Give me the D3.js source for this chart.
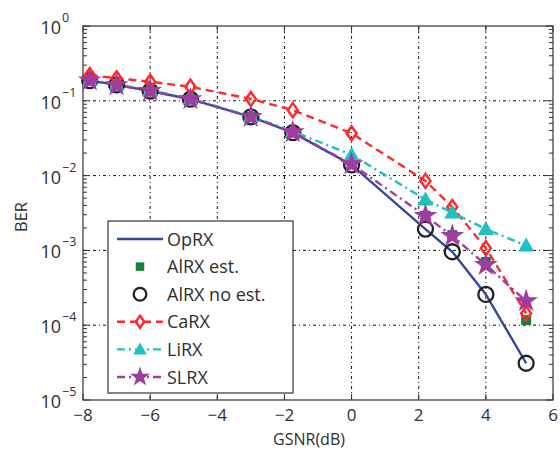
<!DOCTYPE html>
<html><head><meta charset="utf-8">
<script src="https://cdn.jsdelivr.net/npm/d3@7"></script>
<style>
body{margin:0;background:#fff;}
text{font-family:"Open Sans","Noto Sans",sans-serif;fill:#2e2e2e;}
</style></head>
<body><svg id="c" width="560" height="451"></svg>
<script>
const gsnr = [-7.8, -7, -6, -4.8, -3, -1.75, 0, 2.2, 3, 4, 5.2];
const opRX      = [0.186, 0.163, 0.135, 0.105, 0.061, 0.0375, 0.0139, 0.00193, 0.00096, 0.000258, 0.000031];
const alRXest   = [0.188, 0.162, 0.136, 0.105, 0.061, 0.038, 0.0142, 0.0029, 0.0016, 0.00070, 0.000117];
const alRXnoEst = [0.186, 0.163, 0.135, 0.105, 0.061, 0.0375, 0.0139, 0.00193, 0.00096, 0.000258, 0.000031];
const caRX      = [0.221, 0.200, 0.180, 0.154, 0.106, 0.075, 0.0368, 0.0085, 0.0038, 0.00107, 0.000144];
const liRX      = [0.190, 0.165, 0.138, 0.107, 0.062, 0.039, 0.019, 0.0048, 0.0032, 0.00193, 0.00116];
const slRX      = [0.188, 0.162, 0.136, 0.105, 0.061, 0.038, 0.0142, 0.0029, 0.00156, 0.00064, 0.00021];
const xTicks = [-8, -6, -4, -2, 0, 2, 4, 6];
const yExps = [0, -1, -2, -3, -4, -5];
const seriesNames = ["OpRX", "AlRX est.", "AlRX no est.", "CaRX", "LiRX", "SLRX"];

const svg = d3.select("#c");
const L = 83, R = 553, T = 26, B = 400;
const x = d3.scaleLinear().domain([-8, 6]).range([L, R]);
const y = d3.scaleLog().domain([1e-5, 1]).range([B, T]);

const series = [
  {name: seriesNames[0], vals: opRX, color: "#3446a0", dash: null, marker: null, line: true},
  {name: seriesNames[1], vals: alRXest, color: "#17803d", dash: null, marker: "square", line: false},
  {name: seriesNames[2], vals: alRXnoEst, color: "#222", dash: null, marker: "circle", line: false},
  {name: seriesNames[3], vals: caRX, color: "#ff2a2a", dash: "8,5", marker: "diamond", line: true},
  {name: seriesNames[4], vals: liRX, color: "#1fc0c0", dash: "8,4,2,4", marker: "triangle", line: true},
  {name: seriesNames[5], vals: slRX, color: "#a03ca0", dash: "8,4,2,4", marker: "star", line: true}
];

// grid
const grid = svg.append("g").attr("stroke", "#111").attr("stroke-width", 1).attr("stroke-dasharray", "3,3,1,3");
xTicks.slice(1, -1).forEach(t => grid.append("line").attr("x1", x(t)).attr("x2", x(t)).attr("y1", T).attr("y2", B));
yExps.slice(1, -1).forEach(e => grid.append("line").attr("x1", L).attr("x2", R).attr("y1", y(Math.pow(10, e))).attr("y2", y(Math.pow(10, e))));

// ticks
const tk = svg.append("g").attr("stroke", "#333").attr("stroke-width", 1);
xTicks.forEach(t => {
  tk.append("line").attr("x1", x(t)).attr("x2", x(t)).attr("y1", B).attr("y2", B - 6);
  tk.append("line").attr("x1", x(t)).attr("x2", x(t)).attr("y1", T).attr("y2", T + 6);
});
yExps.forEach(e => {
  [L, R].forEach(px => {
    const dir = px === L ? 1 : -1;
    tk.append("line").attr("x1", px).attr("x2", px + dir * 7).attr("y1", y(Math.pow(10, e))).attr("y2", y(Math.pow(10, e)));
    if (e > -5) for (let m = 2; m <= 9; m++) {
      const v = m * Math.pow(10, e - 1);
      tk.append("line").attr("x1", px).attr("x2", px + dir * 4).attr("y1", y(v)).attr("y2", y(v));
    }
  });
});

// frame
svg.append("rect").attr("x", L).attr("y", T).attr("width", R - L).attr("height", B - T)
  .attr("fill", "none").attr("stroke", "#333").attr("stroke-width", 1.2);

// tick labels
svg.append("g").selectAll("text").data(xTicks).join("text")
  .attr("x", d => x(d)).attr("y", 421).attr("text-anchor", "middle").attr("font-size", 17)
  .text(d => d < 0 ? "\u2212" + Math.abs(d) : d);
const yl = svg.append("g");
yExps.forEach(e => {
  const py = y(Math.pow(10, e));
  yl.append("text").attr("x", 61).attr("y", py + 8).attr("text-anchor", "end").attr("font-size", 18).text("10");
  yl.append("text").attr("x", 62).attr("y", py - 4).attr("font-size", 12.5).text(e < 0 ? "\u2212" + Math.abs(e) : e);
});
svg.append("text").attr("x", 309).attr("y", 445).attr("text-anchor", "middle").attr("font-size", 16).text("GSNR(dB)");
svg.append("text").attr("transform", "translate(27,217) rotate(-90)").attr("text-anchor", "middle").attr("font-size", 16.5).text("BER");

// markers
function drawMarker(g, type, cx, cy, color, s) {
  s = s || 1;
  if (type === "square") {
    g.append("rect").attr("x", cx - 5 * s).attr("y", cy - 5 * s).attr("width", 10 * s).attr("height", 10 * s).attr("fill", color);
  } else if (type === "circle") {
    g.append("circle").attr("cx", cx).attr("cy", cy).attr("r", 7.5 * s).attr("fill", "none").attr("stroke", color).attr("stroke-width", 2.3);
  } else if (type === "diamond") {
    g.append("path").attr("d", `M${cx},${cy - 7 * s}L${cx + 5 * s},${cy}L${cx},${cy + 7 * s}L${cx - 5 * s},${cy}Z`)
      .attr("fill", "none").attr("stroke", color).attr("stroke-width", 2.5);
  } else if (type === "triangle") {
    g.append("path").attr("d", `M${cx},${cy - 8 * s}L${cx + 8 * s},${cy + 6 * s}L${cx - 8 * s},${cy + 6 * s}Z`).attr("fill", color);
  } else if (type === "star") {
    g.append("path").attr("d", d3.symbol().type(d3.symbolStar).size(175 * s * s)()).attr("transform", `translate(${cx},${cy})`).attr("fill", color);
  }
}

const lineGen = d3.line().x((d, i) => x(gsnr[i])).y(d => y(d));
series.forEach(s => {
  const g = svg.append("g");
  if (s.line) {
    g.append("path").datum(s.vals).attr("d", lineGen).attr("fill", "none").attr("stroke", s.color)
      .attr("stroke-width", 2.4).attr("stroke-dasharray", s.dash);
  }
  if (s.marker) s.vals.forEach((v, i) => drawMarker(g, s.marker, x(gsnr[i]), y(v), s.color));
});

// legend
const lg = svg.append("g");
lg.append("rect").attr("x", 108).attr("y", 221).attr("width", 185).attr("height", 172)
  .attr("fill", "#fff").attr("stroke", "#333").attr("stroke-width", 1.2);
series.forEach((s, i) => {
  const ly = 239 + i * 27.6;
  if (s.line) lg.append("line").attr("x1", 117).attr("x2", 163).attr("y1", ly).attr("y2", ly)
    .attr("stroke", s.color).attr("stroke-width", 2.4).attr("stroke-dasharray", s.dash);
  if (s.marker) drawMarker(lg, s.marker, 140, ly, s.color, 0.85);
  lg.append("text").attr("x", 167).attr("y", ly + 6.5).attr("font-size", 18).text(s.name);
});
</script></body></html>
